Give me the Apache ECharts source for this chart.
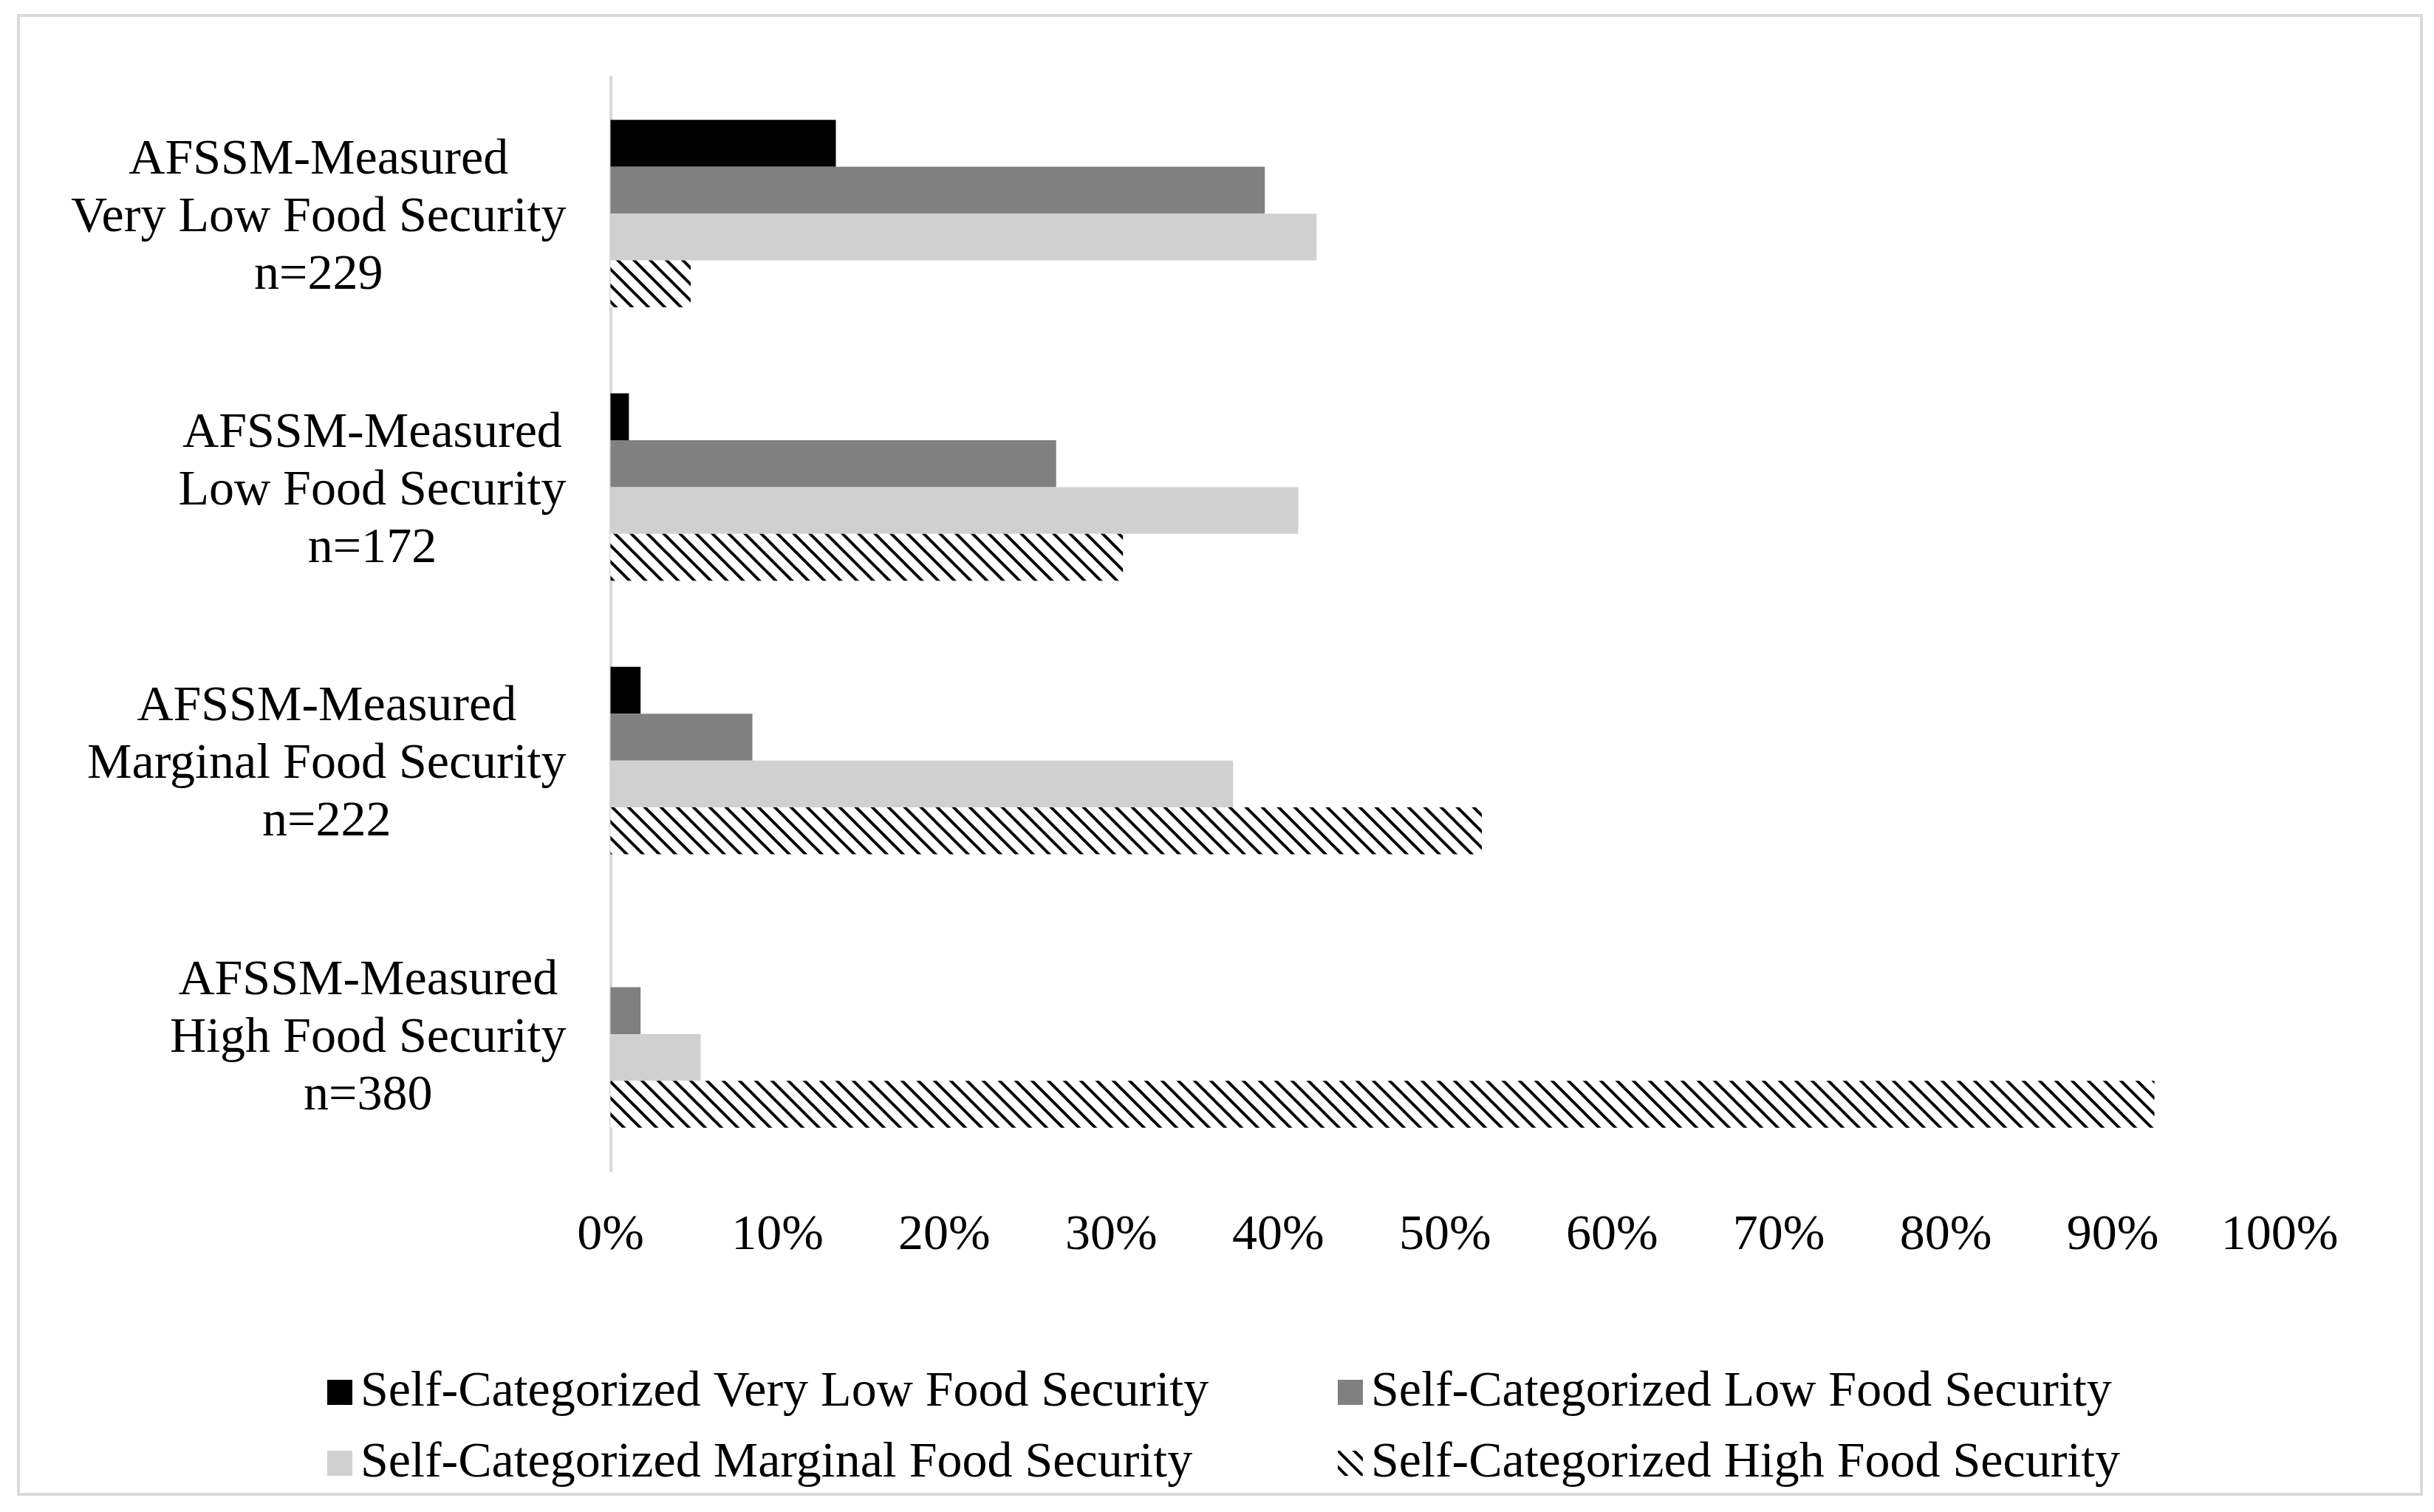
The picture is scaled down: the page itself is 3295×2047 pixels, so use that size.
<!DOCTYPE html>
<html><head><meta charset="utf-8">
<script src="https://cdn.jsdelivr.net/npm/echarts@6/dist/echarts.min.js"></script>
<style>html,body{margin:0;padding:0;background:#fff}#c{width:3295px;height:2047px}</style>
</head><body><div id="c"></div>
<script>
// ---- data ----
const groupNames = ['Very Low Food Security', 'Low Food Security', 'Marginal Food Security', 'High Food Security'];
const groupSizes = [229, 172, 222, 380];
const seriesNames = [
  'Self-Categorized Very Low Food Security',
  'Self-Categorized Low Food Security',
  'Self-Categorized Marginal Food Security',
  'Self-Categorized High Food Security'
];
const selfVeryLow = [13.5, 1.1, 1.8, 0];
const selfLow = [39.2, 26.7, 8.5, 1.8];
const selfMarginal = [42.3, 41.2, 37.3, 5.4];
const selfHigh = [4.8, 30.7, 52.2, 92.5];
const axisMin = 0, axisMax = 100, axisStep = 10;

// ---- hatch pattern ----
function hatch() {
  const W = 22, H = 22;
  const c = document.createElement('canvas');
  c.width = W; c.height = H;
  const g = c.getContext('2d');
  g.fillStyle = '#fff'; g.fillRect(0, 0, W, H);
  g.strokeStyle = '#000'; g.lineWidth = 4;
  for (let k = -1; k <= 1; k++) {
    g.beginPath();
    g.moveTo(k * W - W, -H);
    g.lineTo(k * W + 2 * W, 2 * H);
    g.stroke();
  }
  return { image: c, repeat: 'repeat' };
}

const FONT = "'Liberation Serif', 'Times New Roman', serif";
const FS = 68;
const chart = echarts.init(document.getElementById('c'), null, { renderer: 'canvas' });
const colors = ['#000000', '#808080', '#d0d0d0', hatch()];
const values = [selfVeryLow, selfLow, selfMarginal, selfHigh];

const legendCommon = {
  orient: 'vertical', top: 1846, itemWidth: 34, itemHeight: 34, itemGap: 28,
  icon: 'rect', selectedMode: false,
  textStyle: { fontFamily: FONT, fontSize: FS, lineHeight: 68, color: '#000', padding: [0, 0, 0, 6] }
};

chart.setOption({
  animation: false,
  backgroundColor: '#fff',
  graphic: [{
    type: 'rect', shape: { x: 25, y: 21, width: 3253, height: 2002 },
    style: { fill: 'none', stroke: '#d9d9d9', lineWidth: 4 }, silent: true
  }],
  grid: { left: 826.5, right: 209, top: 104, bottom: 462, containLabel: false },
  legend: [
    Object.assign({ left: 438, data: [seriesNames[0], seriesNames[2]] }, legendCommon),
    Object.assign({ left: 1806, data: [seriesNames[1], seriesNames[3]] }, legendCommon)
  ],
  xAxis: {
    type: 'value', min: axisMin, max: axisMax, interval: axisStep,
    axisLine: { show: false }, axisTick: { show: false }, splitLine: { show: false },
    axisLabel: { formatter: '{value}%', fontFamily: FONT, fontSize: FS, color: '#000', margin: 54 }
  },
  yAxis: {
    type: 'category', data: groupNames, inverse: true,
    axisLine: { show: true, lineStyle: { color: '#d9d9d9', width: 4 } },
    axisTick: { show: false },
    axisLabel: {
      margin: 60,
      padding: [12, 0, 0, 0],
      formatter: (v, i) => `{a|AFSSM-Measured}\n{a|${v}}\n{a|n=${groupSizes[i]}}`,
      rich: { a: { align: 'center', fontFamily: FONT, fontSize: FS, lineHeight: 78, color: '#000' } }
    }
  },
  series: values.map((d, i) => ({
    name: seriesNames[i], type: 'bar', data: d,
    barGap: '0%', barCategoryGap: '31.4%',
    itemStyle: { color: colors[i] },
    emphasis: { disabled: true }
  }))
});
</script></body></html>
